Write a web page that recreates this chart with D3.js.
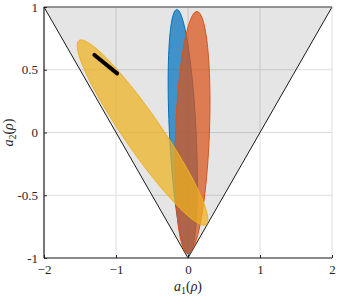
<!DOCTYPE html>
<html>
<head>
<meta charset="utf-8">
<script src="https://cdn.jsdelivr.net/npm/d3@7"></script>
<style>
  body { margin: 0; background: #fff; }
  svg text { font-family: "Liberation Serif", "DejaVu Serif", serif; fill: #262626; }
</style>
</head>
<body>
<div id="chart"></div>
<script>
var width = 339,
    height = 296,
    margin = {top: 7, right: 7, bottom: 38, left: 44};

// ticks
var xTicks = [-2, -1, 0, 1, 2];
var yTicks = [-1, -0.5, 0, 0.5, 1];
var yTickLabels = ["-1", "-0.5", "0", "0.5", "1"];

// triangle region (vertices)
var triX = [-2, 2, 0];
var triY = [1, 1, -1];

// ellipses: center, semi-major vector, semi-minor vector (data units)
var ellNames = ["blue", "orange", "yellow"];
var ellCx = [-0.073, 0.062, -0.632];
var ellCy = [0.005, 0.0, 0.0];
var ellUx = [-0.083, 0.063, 0.882];
var ellUy = [0.975, 0.964, -0.733];
var ellVx = [0.185, 0.235, 0.211];
var ellVy = [0.005, -0.006, 0.084];
var ellColors = ["#0072BD", "#D95319", "#EDB120"];

// black segment
var segX = [-1.30, -0.985];
var segY = [0.618, 0.471];

var svg = d3.select("#chart").append("svg")
    .attr("width", width)
    .attr("height", height);

var x = d3.scaleLinear().domain([-2, 2]).range([margin.left, width - margin.right]);
var y = d3.scaleLinear().domain([-1, 1]).range([height - margin.bottom, margin.top]);

// grid
svg.append("g").selectAll("line")
    .data(xTicks).enter().append("line")
    .attr("x1", x).attr("x2", x)
    .attr("y1", y(-1)).attr("y2", y(1))
    .attr("stroke", "#dedede").attr("stroke-width", 1);
svg.append("g").selectAll("line")
    .data(yTicks).enter().append("line")
    .attr("x1", x(-2)).attr("x2", x(2))
    .attr("y1", y).attr("y2", y)
    .attr("stroke", "#dedede").attr("stroke-width", 1);

// triangle
var tri = triX.map(function (d, i) { return [x(d), y(triY[i])]; });
svg.append("path")
    .attr("d", "M" + tri.join("L") + "Z")
    .attr("fill", "#000").attr("fill-opacity", 0.1)
    .attr("stroke", "none");
svg.append("path")
    .attr("d", "M" + tri[1] + "L" + tri[2] + "L" + tri[0])
    .attr("fill", "none").attr("stroke", "#1a1a1a").attr("stroke-width", 1);
svg.append("line")
    .attr("x1", tri[0][0]).attr("x2", tri[1][0])
    .attr("y1", tri[0][1]).attr("y2", tri[1][1])
    .attr("stroke", "#777").attr("stroke-width", 1.6);

// ellipses
var line = d3.line();
ellNames.forEach(function (name, i) {
    var pts = d3.range(0, 361, 3).map(function (deg) {
        var t = deg * Math.PI / 180;
        var px = ellCx[i] + ellUx[i] * Math.sin(t) + ellVx[i] * Math.cos(t);
        var py = ellCy[i] + ellUy[i] * Math.sin(t) + ellVy[i] * Math.cos(t);
        return [x(px), y(py)];
    });
    svg.append("path")
        .attr("class", "ellipse " + name)
        .attr("d", line(pts) + "Z")
        .attr("fill", ellColors[i]).attr("fill-opacity", 0.72)
        .attr("stroke", ellColors[i]).attr("stroke-width", 1);
});

// segment
svg.append("line")
    .attr("x1", x(segX[0])).attr("y1", y(segY[0]))
    .attr("x2", x(segX[1])).attr("y2", y(segY[1]))
    .attr("stroke", "#000").attr("stroke-width", 4)
    .attr("stroke-linecap", "round");

// axes
var xAxis = d3.axisBottom(x).tickValues(xTicks).tickSize(-3).tickPadding(7)
    .tickFormat(d3.format("d"));
var yAxis = d3.axisLeft(y).tickValues(yTicks).tickSize(-3).tickPadding(6)
    .tickFormat(function (d, i) { return yTickLabels[i]; });

var gx = svg.append("g")
    .attr("transform", "translate(0," + y(-1) + ")")
    .call(xAxis);
var gy = svg.append("g")
    .attr("transform", "translate(" + x(-2) + ",0)")
    .call(yAxis);
[gx, gy].forEach(function (g) {
    g.select(".domain").attr("stroke", "#262626").attr("stroke-width", 1.2);
    g.selectAll(".tick line").attr("stroke", "#262626");
    g.selectAll(".tick text").attr("font-size", 13)
        .style("font-family", "'Liberation Serif', serif").attr("fill", "#262626");
});
gx.select(".domain").attr("d", "M" + x(-2) + ",0H" + x(2));
gy.select(".domain").attr("d", "M0," + y(-1) + "V" + y(1));

// axis labels
var xl = svg.append("text")
    .attr("x", x(0)).attr("y", 291)
    .attr("text-anchor", "middle").attr("font-size", 14);
xl.append("tspan").attr("font-style", "italic").text("a");
xl.append("tspan").attr("font-size", 10).attr("dy", 3).text("1");
xl.append("tspan").attr("dy", -3).text("(");
xl.append("tspan").attr("font-style", "italic").text("ρ");
xl.append("tspan").text(")");

var yl = svg.append("text")
    .attr("transform", "translate(13," + y(0) + ") rotate(-90)")
    .attr("text-anchor", "middle").attr("font-size", 14);
yl.append("tspan").attr("font-style", "italic").text("a");
yl.append("tspan").attr("font-size", 10).attr("dy", 3).text("2");
yl.append("tspan").attr("dy", -3).text("(");
yl.append("tspan").attr("font-style", "italic").text("ρ");
yl.append("tspan").text(")");
</script>
</body>
</html>
